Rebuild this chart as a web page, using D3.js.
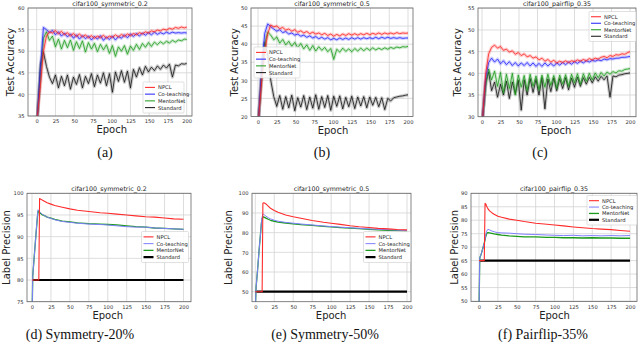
<!DOCTYPE html>
<html><head><meta charset="utf-8">
<script src="https://cdn.jsdelivr.net/npm/d3@7"></script>
<style>body{margin:0;background:#fff}svg{display:block}</style>
</head><body>
<script>
// ---------- DATA ----------
const seriesNames = ["NPCL", "Co-teaching", "MentorNet", "Standard"];
const xTicks = [0, 25, 50, 75, 100, 125, 150, 175, 200];

const epochsTop = [1,5,9,13,17,21,25,29,33,37,41,45,49,53,57,61,65,69,73,77,81,85,89,93,97,101,105,109,113,117,121,125,129,133,137,141,145,149,153,157,161,165,169,173,177,181,185,189,193,197,200];

// (a) cifar100_symmetric_0.2 — test accuracy
const aYTicks = [35, 40, 45, 50, 55, 60];
const aNPCL = [35,42,50,53.5,54.5,54.2,54.8,54,54.6,53.8,54.3,53.5,54.1,53.4,54,53.3,53.8,53.1,53.6,53,53.5,53.1,53.7,53,53.5,53.2,53.8,53.3,53.9,53.4,54,53.6,54.1,53.8,54.3,54,54.5,54.2,54.7,54.5,54.9,54.7,55.1,54.9,55.3,55.1,55.5,55.3,55.6,55.4,55.6];
const aCoteach = [35,46,55.5,55,54.3,54.8,53.8,54.5,53.5,54.2,53.3,54,53,53.8,52.8,53.6,52.9,53.5,52.6,53.4,52.8,53.6,52.5,53.3,52.7,53.5,52.6,53.4,53,53.8,53.1,54,53.4,54.1,53.5,54.2,53.7,54.3,53.8,54.4,53.9,54.3,54,54.4,54.1,54.4,54.2,54.3,54.2,54.3,54.2];
const aMentor = [35,44,53,54.5,52.5,53.5,51,52.8,50.5,52.5,50.8,52.6,50.2,52.2,50.6,52.4,49.8,52,50.5,51.8,49.9,51.6,50.3,51.5,49.5,51.3,48.8,51,50,51.3,49.3,51.2,50.2,51.6,50.4,51.8,50.9,52,51.1,52.1,51.5,52.2,51.7,52.3,51.9,52.5,52.1,52.6,52.4,52.8,52.7];
const aStandard = [35,47,49.8,46.5,44,42.5,44.5,41.5,44.2,42,44.5,41.2,44,42.3,44.6,41.5,44.2,42.5,44.8,41.8,44.5,42.6,45,42,44.8,40.5,45.2,43,45.5,42.8,45.4,41.5,45.8,44,46.2,44.5,46.5,45.2,46.3,45.5,46.6,45.8,46.8,46.1,47,44,46.8,46.6,47.1,47,47.2];

// (b) cifar100_symmetric_0.5 — test accuracy
const bYTicks = [20, 25, 30, 35, 40, 45, 50];
const bNPCL = [20,30,38,43,45.3,44.8,45,44.3,44.6,43.9,44.2,43.6,44,43.3,43.7,43.1,43.5,42.9,43.3,42.8,43.1,42.6,43,42.4,42.8,42.2,42.7,42.3,42.8,42.4,42.9,42.5,42.9,42.5,42.9,42.6,43,42.6,43,42.7,43.1,42.7,43.1,42.8,43.1,42.8,43.2,42.9,43.1,43,43.1];
const bCoteach = [20,34,43,45.6,44.8,44.2,43.6,44,43.2,43.5,42.8,43.1,42.5,42.8,42.2,42.5,41.9,42.3,41.7,42.1,41.5,41.9,41.4,41.8,41.2,41.6,41.2,41.7,41.3,41.7,41.3,41.8,41.4,41.8,41.4,41.8,41.5,41.8,41.5,41.9,41.5,41.9,41.6,41.9,41.6,41.8,41.6,41.8,41.6,41.7,41.7];
const bMentor = [20,31,40,43.3,42.5,41.2,42,40.3,41.3,39.8,40.8,39.4,40.5,39,40.2,38.7,39.8,38.3,39.6,38.1,39.3,38.3,39.1,37.9,38.8,35.8,38.6,37.8,38.9,38,38.7,37.9,38.8,38.1,38.9,38.2,38.9,38.3,39,38.4,38.9,38.5,39,38.6,39.1,38.8,39.2,39,39.3,39.2,39.4];
const bStandard = [20,33,40.5,37,30,25.5,22.8,25.8,22,25.5,22.4,25.9,21.6,25.2,22.6,25.8,21.9,25.4,22.3,26,22,25.5,22.5,25.8,21.7,25.6,22.8,25.7,22.1,25.3,22.7,25.6,22.2,25.4,22.9,25.5,22.4,25.4,23.1,25.3,22.7,25.2,21.9,25,24.3,25.2,25.4,25.6,25.7,25.9,26];

// (c) cifar100_pairflip_0.35 — test accuracy
const cYTicks = [30, 35, 40, 45, 50, 55];
const cNPCL = [30,40,44.5,46,46.5,45.8,46.2,45.3,45.6,44.9,45.2,44.4,44.8,44.1,44.5,43.8,44.1,43.5,43.8,43.1,43.5,42.8,43.2,42.6,43,42.4,42.8,42.5,42.9,42.5,42.9,42.7,43.1,42.8,43.2,42.9,43.4,43.1,43.5,43.3,43.7,43.9,43.6,44.1,43.9,44.3,44.2,44.5,44.4,44.8,45];
const cCoteach = [30,39,42.5,43.5,42.6,43.3,42.2,42.9,42,42.7,41.8,42.5,41.7,42.4,41.8,42.5,41.7,42.4,41.6,42.3,41.6,42.4,41.7,42.3,41.7,42.4,41.9,42.5,42,42.6,42.1,42.7,42.3,42.8,42.4,42.9,42.6,43,42.8,43.1,42.9,43.3,43.1,43.4,43.3,43.5,43.5,43.7,43.7,43.8,43.9];
const cMentor = [30,37,41,38.5,40.5,37,40.2,35.5,39.8,36.5,40,35,39.6,36.8,39.5,36,39.8,37,39.4,36.2,39.6,36.8,39.8,37.2,39.5,36.5,39.6,37.5,39.7,37,39.8,37.8,39.9,37.5,39.9,38.2,40,38.5,40.1,39,40.2,39.4,40.3,39.8,40.4,40.1,40.6,40.5,40.9,41,41.1];
const cStandard = [30,38,40.3,36,38,34.5,37.5,35,38.2,34.2,38,35.3,38.4,31.5,38.5,35,38.8,35.6,38.6,35,38.9,31.8,38.7,35.8,38.9,36,38.8,36.5,39,36.2,38.9,36.8,39.1,37,39,37.5,39.1,37.8,39.2,38.2,39.3,38.5,39.4,34.5,39.4,39.2,39.6,39.7,39.9,40,40.1];

const epochsBottom = [0,1,3,5,7,8,9,10,11,12,14,17,20,25,30,40,50,60,75,90,100,112,125,137,150,162,175,187,200];

// (d) cifar100_symmetric_0.2 — label precision
const dYTicks = [75, 80, 85, 90, 95, 100];
const dNPCL = [80,80,80,80,80,80,80,98.8,98.7,98.6,98.4,98.1,97.8,97.5,97.2,96.8,96.4,96.1,95.8,95.5,95.4,95.2,95,94.8,94.6,94.5,94.3,94.1,94];
const dCoteach = [70,81,85.5,90,94.5,96.2,96,95.8,95.6,95.4,95.1,94.8,94.5,94.2,93.9,93.5,93.3,93.1,92.9,92.8,92.7,92.5,92.3,92.2,92.2,92,91.9,91.8,91.7];
const dMentor = [70,81,85.5,90,94.2,95.9,95.8,95.6,95.4,95.3,95,94.8,94.5,94.3,94,93.6,93.4,93.2,93,92.9,92.8,92.7,92.5,92.3,92.2,92,91.9,91.8,91.7];
const dStandard = [80,80,80,80,80,80,80,80,80,80,80,80,80,80,80,80,80,80,80,80,80,80,80,80,80,80,80,80,80];

// (e) cifar100_symmetric_0.5 — label precision
const eYTicks = [50, 60, 70, 80, 90, 100];
const eNPCL = [50,50,50,50,50,50,50,95,95.2,95.1,94.6,93.5,92.4,91.3,90.4,89,88.1,87.3,86.2,85.3,84.8,84.2,83.5,83,82.6,82.2,81.9,81.6,81.4];
const eCoteach = [40,52,61,71,80,85,88,89.3,89.3,89,88.4,87.6,87,86.3,85.8,85.2,84.8,84.4,83.9,83.4,83.1,82.8,82.5,82.2,81.9,81.7,81.5,81.3,81.1];
const eMentor = [40,52,61,71,80,84.5,87,87.8,88,87.8,87.4,86.8,86.3,85.8,85.4,84.9,84.5,84.1,83.7,83.2,82.9,82.6,82.3,82,81.7,81.4,81.2,81,80.8];
const eStandard = [50,50,50,50,50,50,50,50,50,50,50,50,50,50,50,50,50,50,50,50,50,50,50,50,50,50,50,50,50];

// (f) cifar100_pairflip_0.35 — label precision
const fYTicks = [50, 55, 60, 65, 70, 75, 80, 85, 90];
const fNPCL = [65,65,65,65,65,86.3,86,85.3,84.7,84.2,83.5,82.8,82.2,81.5,81.1,80.4,80,79.5,78.9,78.5,78.2,77.9,77.5,77.2,76.9,76.7,76.5,76.2,75.9];
const fCoteach = [45,66,67.5,69.5,71.5,73,74.5,75.8,76.4,76.6,76.4,76,75.7,75.4,75.3,75.2,75,74.8,74.7,74.5,74.4,74.3,74.4,74.2,74.3,74.2,74.3,74.2,74.3];
const fMentor = [45,66,67.5,69.5,71.5,72.8,74,74.9,75.3,75.4,75.3,75.1,74.9,74.7,74.5,74.2,74,73.8,73.8,73.6,73.6,73.5,73.5,73.4,73.5,73.4,73.4,73.3,73.3];
const fStandard = [65,65,65,65,65,65,65,65,65,65,65,65,65,65,65,65,65,65,65,65,65,65,65,65,65,65,65,65,65];

// ---------- LAYOUT / STYLE ----------
const topColors = ["#ff2020", "#1f1fff", "#1a9a1a", "#111111"];
const botColors = ["#ff2a2a", "#7f7fff", "#1a9a1a", "#000000"];
const botWidths = [1.1, 1.0, 1.3, 2.2];

const panels = [
  {id:"a", title:"cifar100_symmetric_0.2", ylabel:"Test Accuracy", caption:"(a)",
   frame:[28,8,192,116], x0:36.7, x200:186.7, yDom:[35,60], yRange:[116,8], yTicks:aYTicks,
   epochs:epochsTop, data:[aNPCL,aCoteach,aMentor,aStandard], top:true,
   legend:{x:143,y:82,w:41,h:31,fs:5.2}, ylabX:10, capX:105, capY:152},
  {id:"b", title:"cifar100_symmetric_0.5", ylabel:"Test Accuracy", caption:"(b)",
   frame:[251,8,413,116.5], x0:258, x200:408, yDom:[20,50], yRange:[116.5,8], yTicks:bYTicks,
   epochs:epochsTop, data:[bNPCL,bCoteach,bMentor,bStandard], top:true,
   legend:{x:254,y:47,w:46,h:31,fs:5.2}, ylabX:234, capX:322, capY:152},
  {id:"c", title:"cifar100_pairflip_0.35", ylabel:"Test Accuracy", caption:"(c)",
   frame:[478,8,636,116.7], x0:482, x200:630, yDom:[30,55], yRange:[116.7,8.3], yTicks:cYTicks,
   epochs:epochsTop, data:[cNPCL,cCoteach,cMentor,cStandard], top:true,
   legend:{x:589,y:11.5,w:47,h:30,fs:5.2}, ylabX:457, capX:540, capY:152},
  {id:"d", title:"cifar100_symmetric_0.2", ylabel:"Label Precision", caption:"(d)  Symmetry-20%",
   frame:[27,193.3,191,301.7], x0:32, x200:183.5, yDom:[75,100], yRange:[301.7,193.3], yTicks:dYTicks,
   epochs:epochsBottom, data:[dNPCL,dCoteach,dMentor,dStandard], top:false,
   legend:{x:141.5,y:231.5,w:47,h:31,fs:5.2}, ylabX:6, capX:80, capY:334},
  {id:"e", title:"cifar100_symmetric_0.5", ylabel:"Label Precision", caption:"(e)  Symmetry-50%",
   frame:[252,193.3,411,301.7], x0:255.3, x200:407, yDom:[50,100], yRange:[291.7,193.3], yTicks:eYTicks,
   epochs:epochsBottom, data:[eNPCL,eCoteach,eMentor,eStandard], top:false,
   legend:{x:363.5,y:231.5,w:47,h:31,fs:5.2}, ylabX:228, capX:325, capY:334},
  {id:"f", title:"cifar100_pairflip_0.35", ylabel:"Label Precision", caption:"(f)  Pairflip-35%",
   frame:[471,193.3,637,301.5], x0:479, x200:630, yDom:[50,90], yRange:[301,193.3], yTicks:fYTicks,
   epochs:epochsBottom, data:[fNPCL,fCoteach,fMentor,fStandard], top:false,
   legend:{x:587,y:195.5,w:50,h:29.5,fs:5.2}, ylabX:454, capX:543, capY:334},
];

const svg = d3.select("body").append("svg").attr("width",640).attr("height",343)
  .style("font-family","'DejaVu Sans', sans-serif");
svg.append("rect").attr("width",640).attr("height",343).attr("fill","#fff");

panels.forEach(p => {
  const [fx0, fy0, fx1, fy1] = p.frame;
  const x = d3.scaleLinear().domain([0,200]).range([p.x0, p.x200]);
  const y = d3.scaleLinear().domain(p.yDom).range(p.yRange);
  const g = svg.append("g");

  // grid
  g.selectAll(".gx").data(xTicks).join("line")
    .attr("x1",d=>x(d)).attr("x2",d=>x(d)).attr("y1",fy0).attr("y2",fy1)
    .attr("stroke","#d4d4d4").attr("stroke-width",0.8);
  g.selectAll(".gy").data(p.yTicks).join("line")
    .attr("x1",fx0).attr("x2",fx1).attr("y1",d=>y(d)).attr("y2",d=>y(d))
    .attr("stroke","#d4d4d4").attr("stroke-width",0.8);

  // axes (labels only)
  const ax = g.append("g").attr("transform",`translate(0,${fy1})`)
    .call(d3.axisBottom(x).tickValues(xTicks).tickSize(0).tickPadding(3.5));
  const ay = g.append("g").attr("transform",`translate(${fx0},0)`)
    .call(d3.axisLeft(y).tickValues(p.yTicks).tickSize(0).tickPadding(3.5));
  [ax, ay].forEach(a => {
    a.select(".domain").remove();
    a.selectAll("text").attr("font-size",5.2).attr("fill","#333").attr("font-family","'DejaVu Sans', sans-serif");
  });

  // clip
  const cid = "clip"+p.id;
  svg.append("clipPath").attr("id",cid).append("rect")
    .attr("x",fx0).attr("y",fy0).attr("width",fx1-fx0).attr("height",fy1-fy0);
  const lg = g.append("g").attr("clip-path",`url(#${cid})`);
  const line = d3.line().x((d,i)=>x(p.epochs[i])).y(d=>y(d));

  const order = p.top ? [3,2,1,0] : [3,2,1,0];
  order.forEach(k => {
    const vals = p.data[k];
    if (p.top) {
      lg.append("path").attr("d",line(vals)).attr("fill","none")
        .attr("stroke",topColors[k]).attr("stroke-width",3.2).attr("stroke-opacity",0.22)
        .attr("stroke-linejoin","round");
      lg.append("path").attr("d",line(vals)).attr("fill","none")
        .attr("stroke",topColors[k]).attr("stroke-width",0.8).attr("stroke-linejoin","round");
    } else {
      lg.append("path").attr("d",line(vals)).attr("fill","none")
        .attr("stroke",botColors[k]).attr("stroke-width",botWidths[k]).attr("stroke-linejoin","round");
    }
  });

  // frame
  g.append("rect").attr("x",fx0).attr("y",fy0).attr("width",fx1-fx0).attr("height",fy1-fy0)
    .attr("fill","none").attr("stroke","#666").attr("stroke-width",0.8);

  // title
  g.append("text").attr("x",(fx0+fx1)/2).attr("y",fy0-2).attr("text-anchor","middle")
    .attr("font-size",6.3).attr("fill","#222").text(p.title);

  // axis labels
  g.append("text").attr("x",(p.x0+p.x200)/2).attr("y",fy1+17).attr("text-anchor","middle")
    .attr("font-size",10).attr("fill","#222").text("Epoch");
  g.append("text").attr("transform",`translate(${p.ylabX},${(fy0+fy1)/2}) rotate(-90)`)
    .attr("text-anchor","middle").attr("dominant-baseline","central")
    .attr("font-size",10).attr("fill","#222").text(p.ylabel);

  // caption
  g.append("text").attr("x",p.capX).attr("y",p.capY).attr("text-anchor","middle")
    .attr("dominant-baseline","central")
    .attr("font-family","'Liberation Serif', 'DejaVu Serif', serif").attr("font-size",14)
    .attr("fill","#111").text(p.caption);

  // legend
  const L = p.legend;
  const lgd = g.append("g");
  lgd.append("rect").attr("x",L.x).attr("y",L.y).attr("width",L.w).attr("height",L.h)
    .attr("fill","#fff").attr("fill-opacity",0.85).attr("stroke","#ccc").attr("stroke-width",0.6).attr("rx",1);
  const step = (L.h-4)/4;
  seriesNames.forEach((nm,k) => {
    const yy = L.y + 2 + step*(k+0.5);
    lgd.append("line").attr("x1",L.x+2).attr("x2",L.x+12).attr("y1",yy).attr("y2",yy)
      .attr("stroke", p.top ? topColors[k] : botColors[k])
      .attr("stroke-width", p.top ? 1 : botWidths[k]);
    lgd.append("text").attr("x",L.x+15).attr("y",yy).attr("dominant-baseline","central")
      .attr("font-size",L.fs).attr("fill","#222").text(nm);
  });
});
</script>
</body></html>
